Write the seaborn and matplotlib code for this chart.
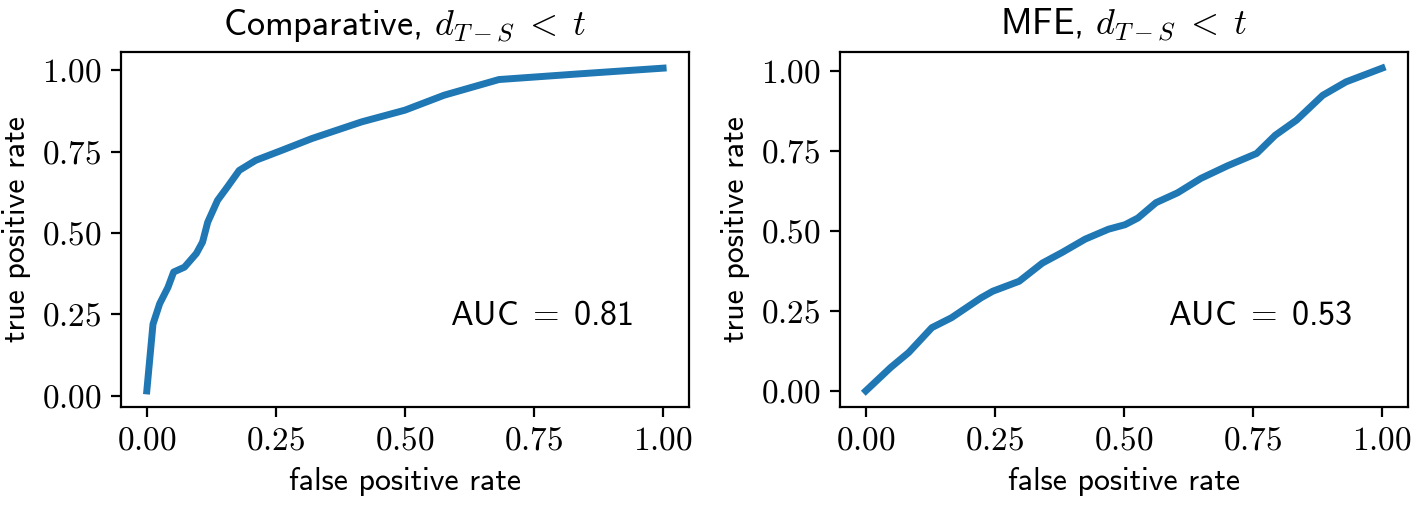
import os
import numpy as np
import pandas as pd
import matplotlib
matplotlib.use('Agg')
import matplotlib.pyplot as plt
import matplotlib.ticker as mticker
from matplotlib import font_manager
import seaborn as sns

# Computer Modern Sans (ships with matplotlib) for plain text, cm for math
ttf_dir = os.path.join(matplotlib.get_data_path(), 'fonts', 'ttf')
font_manager.fontManager.addfont(os.path.join(ttf_dir, 'cmss10.ttf'))
plt.rcParams['font.family'] = ['cmss10', 'DejaVu Sans']
plt.rcParams['mathtext.fontset'] = 'cm'
plt.rcParams['axes.unicode_minus'] = False

# ===== data =====
comp_fpr = [0.0, 0.012, 0.025, 0.041, 0.052, 0.073, 0.096, 0.108, 0.118, 0.137,
            0.156, 0.179, 0.211, 0.262, 0.32, 0.416, 0.5, 0.576, 0.682, 0.833, 1.0]
comp_tpr = [0.015, 0.22, 0.283, 0.333, 0.38, 0.395, 0.437, 0.472, 0.533, 0.60,
            0.641, 0.692, 0.723, 0.754, 0.79, 0.841, 0.877, 0.923, 0.971, 0.988, 1.006]

mfe_fpr = [0.0, 0.048, 0.083, 0.128, 0.166, 0.223, 0.246, 0.297, 0.342, 0.38,
           0.425, 0.47, 0.502, 0.527, 0.562, 0.604, 0.649, 0.70, 0.757, 0.793,
           0.834, 0.885, 0.93, 1.0]
mfe_tpr = [0.0, 0.073, 0.12, 0.198, 0.229, 0.291, 0.312, 0.343, 0.40, 0.433,
           0.475, 0.506, 0.52, 0.541, 0.589, 0.62, 0.665, 0.704, 0.743, 0.80,
           0.847, 0.925, 0.967, 1.01]

titles = [r'Comparative, $d_{T-S} \;<\; t$', r'MFE, $d_{T-S} \;<\; t$']
auc_labels = [r'AUC$\;=\;$0.81', r'AUC$\;=\;$0.53']

panels = [
    pd.DataFrame({'fpr': comp_fpr, 'tpr': comp_tpr}),
    pd.DataFrame({'fpr': mfe_fpr, 'tpr': mfe_tpr}),
]

fig, axes = plt.subplots(1, 2, figsize=(7.075, 2.525), dpi=200)
fig.subplots_adjust(left=0.0855, right=0.995, bottom=0.194, top=0.897, wspace=0.266)

for ax, df, title, auc in zip(axes, panels, titles, auc_labels):
    sns.lineplot(data=df, x='fpr', y='tpr', ax=ax, color='#1f77b4',
                 linewidth=2.5, sort=False, estimator=None)
    ax.set_xlabel('false positive rate', fontsize=11.5)
    ax.set_ylabel('true positive rate', fontsize=11.5)
    ax.set_title(title, fontsize=13)
    ax.text(0.74, 0.255, auc, transform=ax.transAxes, ha='center', va='center',
            fontsize=12.3)
    ax.xaxis.set_major_locator(mticker.MultipleLocator(0.25))
    ax.yaxis.set_major_locator(mticker.MultipleLocator(0.25))
    ax.xaxis.set_major_formatter(mticker.FormatStrFormatter('$%.2f$'))
    ax.yaxis.set_major_formatter(mticker.FormatStrFormatter('$%.2f$'))
    ax.tick_params(labelsize=12)

plt.savefig('out.png', dpi=200)
plt.close()
